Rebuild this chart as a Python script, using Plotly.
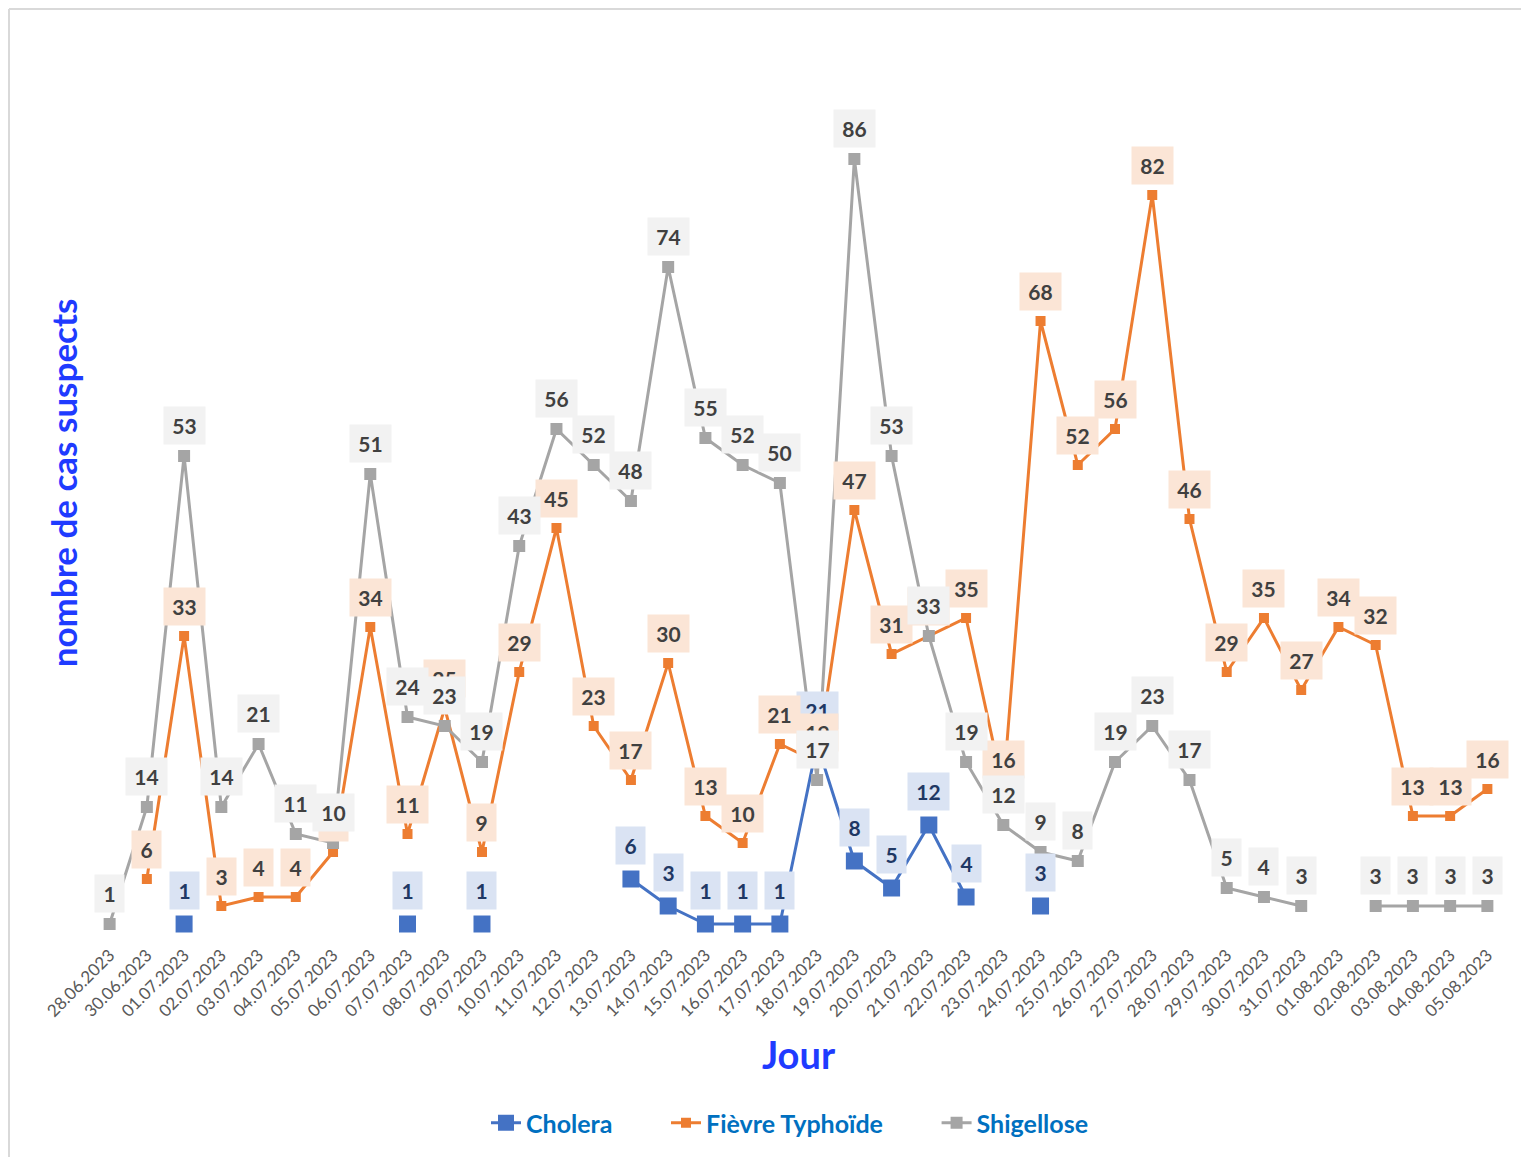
import plotly.graph_objects as go

dates = ["28.06.2023", "30.06.2023", "01.07.2023", "02.07.2023", "03.07.2023", "04.07.2023",
         "05.07.2023", "06.07.2023", "07.07.2023", "08.07.2023", "09.07.2023", "10.07.2023",
         "11.07.2023", "12.07.2023", "13.07.2023", "14.07.2023", "15.07.2023", "16.07.2023",
         "17.07.2023", "18.07.2023", "19.07.2023", "20.07.2023", "21.07.2023", "22.07.2023",
         "23.07.2023", "24.07.2023", "25.07.2023", "26.07.2023", "27.07.2023", "28.07.2023",
         "29.07.2023", "30.07.2023", "31.07.2023", "01.08.2023", "02.08.2023", "03.08.2023",
         "04.08.2023", "05.08.2023"]

cholera = [None, None, 1, None, None, None, None, None, 1, None, 1, None, None, None,
           6, 3, 1, 1, 1, 21, 8, 5, 12, 4, None, 3, None, None, None, None,
           None, None, None, None, None, None, None, None]

typhoide = [None, 6, 33, 3, 4, 4, 9, 34, 11, 25, 9, 29, 45, 23, 17, 30, 13, 10, 21, 19,
            47, 31, 33, 35, 16, 68, 52, 56, 82, 46, 29, 35, 27, 34, 32, 13, 13, 16]

shigellose = [1, 14, 53, 14, 21, 11, 10, 51, 24, 23, 19, 43, 56, 52, 48, 74, 55, 52, 50, 17,
              86, 53, 33, 19, 12, 9, 8, 19, 23, 17, 5, 4, 3, None, 3, 3, 3, 3]

series_names = ["Cholera", "Fièvre Typhoïde", "Shigellose"]

FONT = "Lato"
# page has an 8px body margin, so the figure is sized to fit the 1529x1157 window
OFF = 8
W, H = 1529 - OFF, 1157 - OFF
ML, MR, MT, MB = 83, 23, 25, 224

styles = [
    dict(color="#4472C4", msize=17, label_bg="#DAE3F3", label_fg="#1F3864", yshift=34),
    dict(color="#ED7D31", msize=10, label_bg="#FBE5D6", label_fg="#404040", yshift=30),
    dict(color="#A5A5A5", msize=12, label_bg="#F2F2F2", label_fg="#404040", yshift=31),
]
legend_pad = ["\u00a0" * 8, "\u00a0" * 8, ""]

fig = go.Figure()
annotations = []
for name, vals, st, pad in zip(series_names, [cholera, typhoide, shigellose], styles, legend_pad):
    fig.add_trace(go.Scatter(
        x=dates, y=vals, name=name + pad, mode="lines+markers",
        line=dict(color=st["color"], width=3),
        marker=dict(symbol="square", size=st["msize"], color=st["color"]),
        connectgaps=False, cliponaxis=False,
    ))
    for d, v in zip(dates, vals):
        if v is None:
            continue
        txt = str(v)
        annotations.append(dict(
            x=d, y=v, xref="x", yref="y", text=txt, showarrow=False,
            yshift=st["yshift"], bgcolor=st["label_bg"], borderpad=6,
            width=12 * len(txt) + 5, height=25,
            font=dict(family=FONT, size=21, color=st["label_fg"], weight="bold"),
        ))

pw = W - ML - MR
ph = H - MT - MB
def px_x(p):
    return (p - OFF - ML) / pw
def px_y(p):
    return (H - MB - (p - OFF)) / ph

shapes = [
    dict(type="line", xref="paper", yref="paper", x0=px_x(9), x1=px_x(9), y0=px_y(9), y1=px_y(1165),
         line=dict(color="#D9D9D9", width=2)),
    dict(type="line", xref="paper", yref="paper", x0=px_x(9), x1=px_x(1540), y0=px_y(9), y1=px_y(9),
         line=dict(color="#D9D9D9", width=2)),
]

fig.update_layout(
    width=W, height=H,
    margin=dict(l=ML, r=MR, t=MT, b=MB, autoexpand=False),
    paper_bgcolor="white", plot_bgcolor="white",
    showlegend=True,
    legend=dict(orientation="h", x=px_x(790), xanchor="center", y=px_y(1123), yanchor="middle",
                font=dict(family=FONT, size=25, color="#0070C0", weight="bold"),
                tracegroupgap=0),
    annotations=annotations,
    shapes=shapes,
    xaxis=dict(type="category", categoryorder="array", categoryarray=dates,
               range=[-0.5, len(dates) - 0.5],
               showgrid=False, showline=False, zeroline=False, ticks="",
               tickangle=-45, tickfont=dict(family=FONT, size=17, color="#595959"),
               ticklabelstandoff=8,
               title=dict(text="Jour", font=dict(family=FONT, size=38, color="#1F3BFF", weight="bold"),
                          standoff=22),
               automargin=False),
    yaxis=dict(range=[0, 100], showgrid=False, showline=False, zeroline=False,
               showticklabels=False, ticks="",
               title=dict(text="nombre de cas suspects",
                          font=dict(family=FONT, size=35, color="#1F3BFF", weight="bold"),
                          standoff=1),
               automargin=False),
    font=dict(family=FONT),
)

fig.write_html("out.html")
